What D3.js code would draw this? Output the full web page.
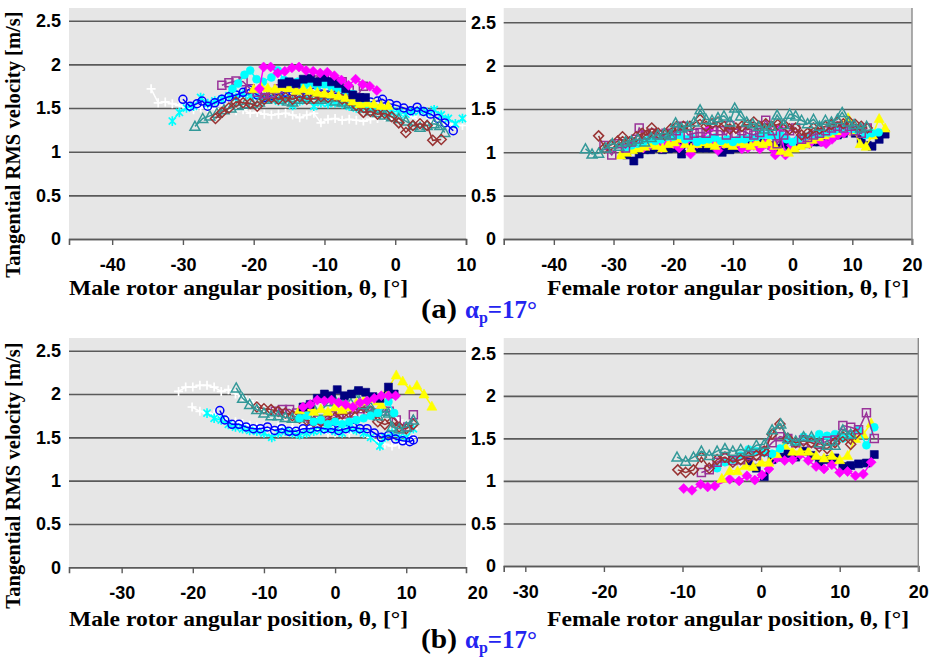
<!DOCTYPE html>
<html>
<head>
<meta charset="utf-8">
<script src="https://cdn.jsdelivr.net/npm/d3@7"></script>
<style>
  html, body { margin: 0; background: #fff; }
  svg { display: block; }
</style>
</head>
<body>
<div id="chart"></div>
<script>
// each point: [angular position θ (deg), tangential RMS velocity (m/s)]

// (a) male rotor
const aMaleWhite = [[-34.5,1.72],[-33.5,1.56],[-32.5,1.57],[-31.5,1.55],[-30.5,1.53],[-29.5,1.5],[-28.5,1.48],[-27.5,1.5],[-26.5,1.5],[-25.5,1.49],[-24.5,1.48],[-23.5,1.5],[-22.5,1.47],[-21.5,1.48],[-20.5,1.44],[-19.5,1.45],[-18.5,1.43],[-17.5,1.42],[-16.5,1.43],[-15.5,1.44],[-14.5,1.42],[-13.5,1.39],[-12.5,1.42],[-11.5,1.44],[-10.5,1.33],[-9.5,1.37],[-8.5,1.38],[-7.5,1.36],[-6.5,1.37],[-5.5,1.36],[-4.5,1.35],[-3.5,1.37],[-2.5,1.38],[-1.5,1.4],[-0.5,1.38],[0.5,1.4],[1.5,1.42],[2.5,1.4],[3.5,1.35],[4.5,1.33],[5.5,1.35],[6.5,1.3],[7.5,1.32],[8.5,1.3],[9.5,1.3]];
const aMaleStar = [[-31.5,1.35],[-30.5,1.45],[-29.5,1.5],[-28.5,1.52],[-27.5,1.62],[-26.5,1.55],[-25.5,1.58],[-24.5,1.6],[-23.5,1.64],[-22.5,1.62],[-21.5,1.66],[-20.5,1.64],[-19.5,1.65],[-18.5,1.62],[-17.5,1.6],[-16.5,1.58],[-15.5,1.6],[-14.5,1.53],[-13.5,1.58],[-12.5,1.6],[-11.5,1.52],[-10.5,1.56],[-9.5,1.55],[-8.5,1.56],[-7.5,1.55],[-6.5,1.52],[-5.5,1.5],[-4.5,1.52],[-3.5,1.5],[-2.5,1.48],[-1.5,1.45],[-0.5,1.47],[0.5,1.45],[1.5,1.43],[2.5,1.46],[3.5,1.47],[4.5,1.45],[5.5,1.48],[6.5,1.42],[7.5,1.38],[8.5,1.32],[9.5,1.38]];
const aMaleBlue = [[-30,1.6],[-29,1.52],[-28,1.55],[-27.3,1.58],[-26.5,1.52],[-25.5,1.56],[-24.5,1.6],[-23.5,1.63],[-22.5,1.65],[-21.5,1.68],[-20.7,1.71],[-19.5,1.65],[-18.5,1.62],[-17.5,1.64],[-16.5,1.66],[-15.5,1.68],[-14.5,1.69],[-13.5,1.67],[-12.5,1.66],[-11.5,1.68],[-10.5,1.66],[-9.5,1.65],[-8.5,1.67],[-7.5,1.66],[-6.5,1.63],[-5.5,1.62],[-4.5,1.6],[-3.5,1.57],[-2.5,1.58],[-1.8,1.6],[-0.8,1.55],[0.2,1.53],[1.2,1.5],[2.2,1.47],[3.1,1.51],[4,1.46],[5,1.43],[6,1.38],[7,1.33],[8.2,1.24]];
const aMaleTeal = [[-28.3,1.29],[-27.2,1.38],[-26.2,1.41],[-25.2,1.44],[-24.2,1.48],[-23.2,1.5],[-22.2,1.53],[-21.2,1.55],[-20.2,1.55],[-19.2,1.57],[-18.2,1.6],[-17.2,1.62],[-16.2,1.6],[-15.2,1.58],[-14.5,1.57],[-13.5,1.6],[-12.5,1.62],[-11.5,1.6],[-10.5,1.6],[-9.5,1.62],[-8.5,1.58],[-7.5,1.57],[-6.5,1.55],[-5.5,1.52],[-4.5,1.5],[-3.5,1.47],[-2.5,1.45],[-1.5,1.42],[-0.5,1.4],[0.5,1.38],[1.5,1.35],[2.5,1.3],[3.5,1.28],[4.5,1.3],[5.5,1.32],[6.3,1.3],[7,1.22]];
const aMaleRed = [[-25.4,1.38],[-24.5,1.45],[-23.5,1.5],[-22.5,1.57],[-21.5,1.56],[-20.5,1.55],[-19.5,1.52],[-18.5,1.6],[-17.5,1.62],[-16.5,1.6],[-15.5,1.62],[-14.5,1.6],[-13.5,1.63],[-12.5,1.6],[-11.5,1.61],[-10.5,1.63],[-9.5,1.62],[-8.5,1.64],[-7.5,1.6],[-6.5,1.58],[-5.5,1.53],[-4.5,1.45],[-3.5,1.46],[-2.5,1.43],[-1.5,1.44],[-0.5,1.4],[0.5,1.33],[1.5,1.22],[2.5,1.3],[3.5,1.32],[4.5,1.3],[5.3,1.13],[6.5,1.14]];
const aMalePurple = [[-24.5,1.76],[-23.5,1.79],[-22.5,1.81],[-21.5,1.8],[-20.5,1.72],[-19.5,1.68],[-18.5,1.66],[-17.6,1.67],[-16.5,1.72],[-15.5,1.78],[-14.5,1.78],[-13.5,1.76],[-12.5,1.8],[-11.5,1.82],[-10.5,1.8],[-9.5,1.8],[-8.5,1.79],[-7.5,1.8],[-6.5,1.7],[-5.5,1.62],[-4.5,1.75]];
const aMaleCyan = [[-23,1.72],[-22.2,1.78],[-21.3,1.88],[-20.5,1.93],[-19.6,1.83],[-18.7,1.8],[-17.5,1.85],[-16.6,1.93],[-15.7,1.82],[-14.8,1.78],[-13.8,1.8],[-12.9,1.75],[-12,1.78],[-11,1.75],[-10,1.77],[-9,1.74],[-8,1.72],[-7,1.7],[-6,1.66],[-5,1.6],[-4,1.55]];
const aMaleYellow = [[-20,1.72],[-19,1.75],[-18,1.73],[-17,1.72],[-16,1.74],[-15,1.73],[-14,1.7],[-13,1.72],[-12,1.7],[-11,1.68],[-10,1.67],[-9,1.66],[-8,1.64],[-7,1.62],[-6,1.58],[-5,1.55],[-4,1.56],[-3,1.55],[-2,1.53],[-1,1.53]];
const aMaleMagenta = [[-19.2,1.72],[-18.6,1.97],[-17.6,1.97],[-16.6,1.9],[-15.6,1.92],[-14.6,1.96],[-13.6,1.97],[-12.6,1.93],[-11.6,1.92],[-10.6,1.9],[-9.6,1.91],[-8.6,1.87],[-7.6,1.82],[-6.6,1.76],[-5.6,1.83],[-4.6,1.77],[-3.6,1.75],[-2.6,1.7]];
const aMaleNavy = [[-16,1.78],[-15,1.8],[-14,1.78],[-13,1.83],[-12,1.84],[-11,1.8],[-10,1.85],[-9,1.8],[-8,1.78],[-7,1.72],[-6,1.65],[-5,1.62],[-4.2,1.62]];

// (a) female rotor
const aFemNavy = [[-27.8,0.97],[-26.6,0.9],[-25.7,0.98],[-24.8,1.03],[-23.8,1.03],[-22.8,1.05],[-21.8,1.03],[-20.8,1.04],[-19.8,1.05],[-19,1.08],[-18.6,0.98],[-17.5,1.12],[-16.5,1.05],[-15.5,1.05],[-14.5,1.05],[-13.5,1.05],[-12.5,1.05],[-11.8,1.0],[-10.5,1.03],[-9.5,1.05],[-8.5,1.1],[-7.5,1.1],[-6.5,1.12],[-5.5,1.12],[-4.5,1.1],[-3.5,1.08],[-2.5,1.05],[-1.5,1.1],[-0.5,1.08],[0.5,1.08],[1.5,1.1],[2.5,1.1],[3.5,1.12],[4.5,1.12],[5.5,1.15],[6.5,1.18],[7.5,1.2],[8.5,1.22],[9.5,1.25],[10.5,1.22],[11.5,1.15],[12.5,1.08],[13.3,1.07],[14.5,1.15],[15.5,1.21]];
const aFemMagenta = [[-25,1.05],[-24,1.08],[-23,1.1],[-22,1.05],[-21,1.12],[-20,1.1],[-19,1.05],[-18,1.12],[-17.1,0.98],[-16,1.1],[-15,1.15],[-14,1.27],[-13,1.1],[-12.5,1.02],[-11.5,1.1],[-10.5,1.12],[-9.5,1.1],[-8.5,1.04],[-7.5,1.05],[-6.5,1.08],[-5.5,1.04],[-4.5,1.1],[-3.5,1.05],[-2.9,0.97],[-2.2,1.28],[-1.2,0.97],[-0.2,1.08],[0.8,1.15],[1.8,1.12],[2.8,1.1],[3.8,1.15],[4.8,1.12],[5.6,1.1],[6.6,1.15],[7.6,1.2],[8.6,1.22],[9.6,1.25]];
const aFemYellow = [[-28.8,0.97],[-27.8,1.0],[-26.8,1.03],[-25.8,1.05],[-24.8,1.07],[-23.8,1.1],[-22.8,1.08],[-21.8,1.05],[-20.8,1.1],[-19.8,1.12],[-19,1.16],[-18,1.1],[-17,1.05],[-16,1.1],[-15,1.12],[-14,1.1],[-13,1.08],[-12,1.12],[-11,1.1],[-10,1.08],[-9,1.12],[-8,1.1],[-7,1.08],[-6,1.12],[-5,1.1],[-4,1.12],[-3,1.08],[-2,1.02],[-0.7,1.0],[0.3,1.05],[1.3,1.08],[2.3,1.1],[3.3,1.15],[4.3,1.18],[5.3,1.2],[6.3,1.22],[7.3,1.25],[8.3,1.3],[9.3,1.4],[10.3,1.25],[11.3,1.1],[12.3,1.07],[13.4,1.2],[14.5,1.39],[15.5,1.28]];
const aFemCyan = [[-28,1.05],[-27,1.08],[-26,1.1],[-25,1.12],[-24,1.15],[-23,1.13],[-22,1.15],[-21,1.18],[-20,1.18],[-19,1.2],[-18,1.15],[-17,1.17],[-16,1.12],[-15,1.14],[-14,1.15],[-13,1.17],[-12,1.13],[-11,1.15],[-10,1.12],[-9,1.15],[-8,1.15],[-7,1.17],[-6,1.18],[-5,1.2],[-4,1.2],[-3,1.18],[-2,1.2],[-1,1.15],[0,1.12],[1,1.15],[2,1.18],[3,1.2],[4,1.2],[5,1.22],[6,1.23],[7,1.25],[8,1.27],[9,1.28],[10,1.27],[11,1.25],[12.2,1.2],[13.3,1.22],[14.4,1.23]];
const aFemPurple = [[-31.6,1.08],[-30.3,0.97],[-29.1,1.1],[-28,1.05],[-27,1.12],[-26.3,1.15],[-25.7,1.28],[-24.6,1.2],[-23.5,1.22],[-22.3,1.2],[-21.2,1.22],[-20.2,1.2],[-19.5,1.25],[-18.5,1.3],[-17.5,1.2],[-16.5,1.22],[-15.5,1.23],[-14.5,1.22],[-13.2,1.25],[-12.1,1.25],[-11.1,1.2],[-10.5,1.31],[-9.5,1.22],[-8.5,1.25],[-7.5,1.22],[-6.5,1.2],[-5.5,1.23],[-4.5,1.37],[-3.4,1.25],[-2.6,1.1],[-1.5,1.2],[-0.5,1.25],[0.5,1.28],[1.5,1.15],[2.5,1.17],[3.5,1.2],[4.5,1.22],[5.5,1.25],[6.5,1.28],[7.5,1.3],[8.5,1.28],[9.5,1.3],[10.5,1.25],[11.5,1.22],[12.5,1.28]];
const aFemRed = [[-32.5,1.19],[-31.5,1.05],[-30.5,1.08],[-29.3,1.13],[-28.5,1.18],[-27.3,1.12],[-26.2,1.18],[-25.2,1.22],[-24.4,1.2],[-23.6,1.28],[-22.5,1.22],[-21.4,1.2],[-20.4,1.27],[-19.4,1.3],[-18.3,1.3],[-17.2,1.3],[-15.5,1.38],[-14.5,1.3],[-13.5,1.33],[-12.5,1.35],[-11.5,1.3],[-10.5,1.27],[-9.5,1.28],[-8.5,1.3],[-7.5,1.32],[-6.5,1.35],[-5.5,1.3],[-4.5,1.33],[-3.5,1.3],[-2.5,1.32],[-1.5,1.32],[-0.5,1.27],[0.5,1.28],[1.5,1.2],[2.5,1.22],[3.5,1.28],[4.5,1.27],[5.5,1.3],[6.5,1.32],[7.5,1.35],[8.5,1.33],[9.5,1.35],[10.5,1.32],[11.5,1.3],[12.5,1.28]];
const aFemTeal = [[-34.7,1.04],[-33.6,0.98],[-32.5,0.99],[-31.3,1.05],[-30.2,1.1],[-29.1,1.07],[-28,1.12],[-27,1.13],[-25.9,1.15],[-24.8,1.12],[-23.7,1.17],[-22.6,1.2],[-21.5,1.22],[-20.5,1.2],[-19.6,1.34],[-18.6,1.28],[-17.6,1.3],[-16.5,1.35],[-15.5,1.49],[-14.5,1.38],[-13.5,1.37],[-12.5,1.4],[-11.5,1.42],[-10.5,1.35],[-9.7,1.51],[-8.7,1.42],[-7.7,1.35],[-6.7,1.33],[-5.7,1.3],[-4.7,1.27],[-3.6,1.3],[-2.6,1.43],[-1.5,1.32],[-0.5,1.44],[0.5,1.42],[1.5,1.37],[2.5,1.33],[3.5,1.38],[4.5,1.3],[5.5,1.37],[6.5,1.35],[7.5,1.38],[8.3,1.46],[9.3,1.35],[10.3,1.32],[11.4,1.28],[12.4,1.3]];

// (b) male rotor
const bMaleWhiteUpper = [[-22,2.03],[-21,2.08],[-20,2.08],[-19,2.1],[-18,2.1],[-17,2.08],[-16,2.03],[-15,2.05],[-14,2.0],[-13,1.97],[-12,1.92],[-11,1.88],[-10,1.83],[-9,1.8],[-8,1.78],[-7,1.75],[-6,1.73],[-5,1.72],[-4,1.7],[-3,1.68],[-2,1.7],[-1,1.72],[0,1.75],[1,1.76],[2,1.75],[3,1.78],[4,1.8],[5,1.78],[6,1.8],[7,1.78],[8,1.75],[9,1.7],[10,1.65],[11,1.6]];
const bMaleWhiteLower = [[-20.1,1.85],[-19,1.8],[-18,1.78],[-17,1.77],[-16,1.72],[-15,1.7],[-14,1.68],[-13,1.66],[-12,1.64],[-11,1.62],[-10,1.62],[-9,1.6],[-8,1.62],[-7,1.6],[-6,1.62],[-5,1.6],[-4,1.63],[-3,1.6],[-2,1.58],[-1,1.55],[0,1.55],[1,1.57],[2,1.55],[3,1.58],[4,1.55],[5,1.5],[6,1.45],[7,1.42],[8,1.4],[9,1.42],[10,1.45],[11,1.5]];
const bMaleStar = [[-18,1.78],[-17,1.72],[-16,1.7],[-15,1.65],[-14,1.62],[-13,1.6],[-12,1.58],[-11,1.57],[-10,1.55],[-8.9,1.5],[-8,1.55],[-7,1.57],[-6,1.55],[-5,1.53],[-4,1.55],[-3,1.57],[-2,1.58],[-1,1.6],[0,1.57],[1,1.55],[2,1.6],[3,1.58],[4,1.55],[5,1.5],[6.3,1.4],[7,1.5],[8,1.55],[9,1.5],[10,1.5],[11,1.6]];
const bMaleBlue = [[-16.2,1.81],[-15.5,1.7],[-14.5,1.65],[-13.5,1.65],[-12.5,1.62],[-11.5,1.6],[-10.5,1.6],[-9.5,1.62],[-8.5,1.58],[-7.5,1.6],[-6.5,1.57],[-5.5,1.57],[-4.5,1.6],[-3.5,1.6],[-2.5,1.62],[-1.5,1.6],[-0.5,1.6],[0.5,1.58],[1.5,1.6],[2.5,1.62],[3.5,1.6],[4.5,1.6],[5.5,1.55],[6.5,1.5],[7.5,1.52],[8.5,1.48],[9.5,1.46],[10.5,1.45],[11,1.47]];
const bMaleTeal = [[-13.9,2.07],[-13,1.95],[-12,1.88],[-11,1.82],[-10,1.78],[-9,1.75],[-8,1.75],[-7,1.73],[-6,1.72],[-5,1.73],[-4,1.78],[-3.05,1.84],[-2,1.8],[-0.9,1.91],[0,1.92],[1,1.92],[2,1.92],[2.8,2.01],[4,1.88],[5,1.85],[6,1.75],[7,1.8],[7.5,1.78],[8,1.62],[9,1.6],[10,1.62],[11,1.7]];
const bMaleRed = [[-11,1.85],[-10,1.83],[-9,1.82],[-8,1.8],[-7,1.78],[-6,1.75],[-5,1.72],[-4,1.7],[-3,1.68],[-2,1.68],[-1,1.7],[0,1.73],[1,1.77],[2,1.78],[3,1.83],[4,1.85],[5,1.8],[6,1.68],[7,1.65],[8,1.68],[9,1.62],[10,1.6],[11,1.65]];
const bMalePurple = [[-8.4,1.8],[-7.4,1.82],[-6.4,1.82],[-5.4,1.78],[-4.4,1.74],[-3.4,1.72],[-2.4,1.7],[-1.4,1.7],[-0.4,1.75],[0.6,1.77],[1.6,1.77],[2.6,1.78],[3.6,1.83],[4.6,1.8],[5.6,1.78],[6.6,1.8],[7.6,1.8],[8.6,1.7],[9.3,1.6],[10.2,1.62],[11,1.76]];
const bMaleCyan = [[-5,1.72],[-4,1.75],[-3,1.68],[-2,1.7],[-1,1.65],[0,1.68],[1,1.65],[2,1.68],[3,1.7],[4,1.72],[5,1.75],[6,1.78],[7.5,1.91],[8.3,1.78]];
const bMaleYellow = [[-5,1.82],[-4,1.85],[-3,1.8],[-2,1.83],[-1,1.8],[0,1.85],[1,1.82],[2,1.85],[3,1.9],[4,1.92],[5,1.95],[6,1.92],[6.5,1.88],[7.5,2.07],[8.6,2.22],[9.5,2.15],[10.5,2.05],[11.5,2.1],[12.5,2.0],[13.6,1.86]];
const bMaleMagenta = [[-4.5,1.85],[-3.5,1.88],[-2.5,1.93],[-1.5,1.92],[-0.5,1.93],[0.5,1.9],[1.5,1.88],[2.5,1.85],[3.5,1.9],[4.5,1.92],[5.5,1.95],[6.5,1.98],[7.5,1.98],[8.5,1.98]];
const bMaleNavy = [[-4.5,1.85],[-3.5,1.88],[-2.5,1.95],[-1.5,2.0],[-0.5,1.98],[0.3,2.05],[1.3,1.98],[2.3,2.0],[3.3,2.04],[4.3,2.02],[5.3,1.97],[6.3,1.95],[7.5,2.08],[8.3,2.0]];

// (b) female rotor
const bFemNavy = [[-1.6,1.22],[-0.6,1.15],[0.4,1.05],[1.4,1.25],[2.4,1.28],[3.4,1.32],[4.4,1.28],[5.4,1.35],[6.4,1.3],[7.4,1.22],[8.4,1.25],[9.4,1.27],[10.4,1.17],[11.4,1.18],[12.4,1.2],[13.4,1.21],[14.4,1.31]];
const bFemMagenta = [[-9.85,0.91],[-8.8,0.89],[-7.7,0.96],[-6.8,0.93],[-5.9,0.94],[-4,1.02],[-2.8,1.0],[-1.8,1.06],[-0.8,1.01],[0.1,1.07],[1,1.14],[2,1.27],[3,1.24],[4,1.25],[5,1.31],[6,1.24],[7,1.17],[8,1.14],[9,1.19],[10,1.1],[11,1.11],[12,1.06],[13,1.08],[14,1.22]];
const bFemYellow = [[-5,1.03],[-4,1.12],[-3,1.12],[-2,1.18],[-1,1.17],[0,1.22],[1,1.22],[2,1.32],[3,1.42],[4,1.35],[5,1.35],[6,1.35],[7,1.3],[8,1.27],[9,1.3],[10,1.25],[11,1.3],[12,1.5],[13,1.55],[14,1.68]];
const bFemCyan = [[-5.6,1.15],[-4.6,1.22],[-3.6,1.25],[-2.6,1.3],[-1.6,1.37],[-0.6,1.35],[0.4,1.33],[1.4,1.32],[2.4,1.38],[3.4,1.48],[4.4,1.45],[5.4,1.52],[6.4,1.5],[7.4,1.55],[8.4,1.53],[9.4,1.55],[10.4,1.5],[11.4,1.55],[12.4,1.6],[13.4,1.42],[14.4,1.63]];
const bFemPurple = [[-7.6,1.1],[-6.6,1.13],[-5.6,1.22],[-4.6,1.27],[-3.6,1.24],[-2.6,1.25],[-1.6,1.3],[-0.6,1.3],[0.4,1.35],[1.4,1.45],[2.4,1.52],[3.4,1.5],[4.4,1.45],[5.4,1.48],[6.4,1.45],[7.4,1.43],[8.4,1.47],[9.4,1.48],[10.4,1.65],[11.4,1.63],[12.4,1.6],[13.4,1.8],[14.4,1.5]];
const bFemRed = [[-10.6,1.13],[-9.6,1.1],[-8.6,1.13],[-7.6,1.28],[-6.6,1.15],[-5.6,1.25],[-4.6,1.28],[-3.6,1.22],[-2.6,1.25],[-1.6,1.28],[-0.6,1.3],[0.4,1.35],[1.4,1.55],[2.4,1.67],[3.4,1.5],[4.4,1.45],[5.4,1.47],[6.4,1.45],[7.4,1.4],[8.4,1.38],[9.4,1.45],[10.4,1.52],[11.4,1.43],[12,1.55]];
const bFemTeal = [[-10.7,1.28],[-9.6,1.23],[-8.6,1.28],[-7.6,1.35],[-6.6,1.3],[-5.6,1.35],[-4.6,1.38],[-3.6,1.35],[-2.6,1.37],[-1.6,1.35],[-0.6,1.42],[0.4,1.43],[1.4,1.6],[2.5,1.67],[3.4,1.5],[4.4,1.47],[5.4,1.52],[6.4,1.52],[7.4,1.45],[8.4,1.42],[9.4,1.42],[10.4,1.6],[11.4,1.55]];

const yTicks = [0, 0.5, 1, 1.5, 2, 2.5];
const aMaleXTicks = [-40, -30, -20, -10, 0, 10];
const aFemXTicks = [-40, -30, -20, -10, 0, 10, 20];
const bXTicks = [-30, -20, -10, 0, 10, 20];

const STYLE = {
  white:   {color: "#ffffff", shape: "plus"},
  star:    {color: "#00ffff", shape: "star"},
  blue:    {color: "#0000ff", shape: "circle", open: true},
  teal:    {color: "#339999", shape: "triangle", open: true},
  red:     {color: "#993333", shape: "diamond", open: true},
  purple:  {color: "#993399", shape: "square", open: true},
  cyan:    {color: "#00ffff", shape: "circle"},
  yellow:  {color: "#ffff00", shape: "triangle"},
  magenta: {color: "#ff00ff", shape: "diamond"},
  navy:    {color: "#000080", shape: "square"}
};

const MARKER = {
  square: "M-4,-4H4V4H-4Z",
  diamond: "M0,-5L5,0L0,5L-5,0Z",
  triangle: "M0,-5L5,4H-5Z",
  circle: d3.symbol(d3.symbolCircle, 50)(),
  plus: "M-4.5,0H4.5M0,-4.5V4.5",
  star: "M-3.6,-3.6L3.6,3.6M-3.6,3.6L3.6,-3.6M0,-4.8V4.8"
};

const PANELS = [
  {left: 69, right: 466, top: 8, zeroY: 239, topY: 20.7, xDomain: [-46.1, 10], xTicks: aMaleXTicks, labelX: 61,
   series: [["white", aMaleWhite], ["star", aMaleStar], ["blue", aMaleBlue], ["teal", aMaleTeal], ["red", aMaleRed],
            ["purple", aMalePurple], ["cyan", aMaleCyan], ["yellow", aMaleYellow], ["navy", aMaleNavy], ["magenta", aMaleMagenta]]},
  {left: 503.7, right: 912, top: 8, zeroY: 239, topY: 22.3, xDomain: [-48.4, 20], xTicks: aFemXTicks, labelX: 496, border: true,
   series: [["navy", aFemNavy], ["magenta", aFemMagenta], ["yellow", aFemYellow], ["cyan", aFemCyan],
            ["purple", aFemPurple], ["red", aFemRed], ["teal", aFemTeal]]},
  {left: 69, right: 466, top: 338, zeroY: 567.3, topY: 350.7, xDomain: [-37.4, 18.4], xTicks: bXTicks, labelX: 61,
   series: [["white", bMaleWhiteUpper], ["white", bMaleWhiteLower], ["star", bMaleStar], ["blue", bMaleBlue],
            ["purple", bMalePurple], ["red", bMaleRed], ["teal", bMaleTeal], ["cyan", bMaleCyan],
            ["yellow", bMaleYellow], ["navy", bMaleNavy], ["magenta", bMaleMagenta]]},
  {left: 503.7, right: 918.3, top: 338, zeroY: 566, topY: 353.3, xDomain: [-32.75, 20], xTicks: bXTicks, labelX: 496, border: true,
   series: [["navy", bFemNavy], ["magenta", bFemMagenta], ["yellow", bFemYellow], ["cyan", bFemCyan],
            ["purple", bFemPurple], ["red", bFemRed], ["teal", bFemTeal]]}
];

const svg = d3.select("#chart").append("svg")
  .attr("width", 936).attr("height", 657)
  .attr("viewBox", [0, 0, 936, 657]);

svg.append("rect").attr("width", 936).attr("height", 657).attr("fill", "#fff");

const TICK_FONT = "'Liberation Sans', Arial, sans-serif";
const SERIF = "'Liberation Serif', 'Times New Roman', serif";
const plainNumber = (d) => String(d); // hyphen minus, as in the original

for (const p of PANELS) {
  const x = d3.scaleLinear().domain(p.xDomain).range([p.left, p.right]);
  const y = d3.scaleLinear().domain([0, 2.5]).range([p.zeroY, p.topY]);
  const g = svg.append("g");

  g.append("rect")
    .attr("x", p.left).attr("y", p.top)
    .attr("width", p.right - p.left).attr("height", p.zeroY - p.top)
    .attr("fill", "#e6e6e6");

  // gridlines + y labels
  g.append("g")
    .attr("transform", `translate(${p.left},0)`)
    .call(d3.axisLeft(y).tickValues(yTicks).tickFormat(plainNumber).tickSize(-(p.right - p.left)).tickPadding(p.left - p.labelX))
    .call((a) => a.select(".domain").remove())
    .call((a) => a.selectAll(".tick line").attr("stroke", "#5a5a5a").attr("stroke-width", 1.6))
    .call((a) => a.selectAll(".tick text")
      .attr("font-family", TICK_FONT).attr("font-weight", "bold").attr("font-size", 18).attr("fill", "#000"));

  // x axis
  const [x0, x1] = p.xDomain;
  g.append("g")
    .attr("transform", `translate(0,${p.zeroY})`)
    .call(d3.axisBottom(x).tickValues(p.xTicks).tickFormat(plainNumber).tickSizeOuter(0).tickSize(6).tickPadding(13))
    .call((a) => a.select(".domain").attr("stroke", "#5a5a5a").attr("stroke-width", 1.6))
    .call((a) => a.selectAll(".tick line").attr("stroke", "#5a5a5a").attr("stroke-width", 1.4)
      .attr("display", (d) => (d >= x0 && d <= x1 + 0.01 ? null : "none")))
    .call((a) => a.selectAll(".tick text")
      .attr("font-family", TICK_FONT).attr("font-weight", "bold").attr("font-size", 18).attr("fill", "#000"));

  if (p.border) {
    g.append("line")
      .attr("x1", p.right).attr("x2", p.right)
      .attr("y1", p.top).attr("y2", p.zeroY + 6)
      .attr("stroke", "#8a8a8a").attr("stroke-width", 1.4);
  }

  const line = d3.line().x((d) => x(d[0])).y((d) => y(d[1]));

  for (const [key, data] of p.series) {
    const st = STYLE[key];
    g.append("path")
      .datum(data)
      .attr("fill", "none")
      .attr("stroke", st.color)
      .attr("stroke-width", 1.5)
      .attr("d", line);

    const lineShape = st.shape === "plus" || st.shape === "star";
    g.append("g")
      .selectAll("path")
      .data(data)
      .join("path")
      .attr("transform", (d) => `translate(${x(d[0])},${y(d[1])})`)
      .attr("d", MARKER[st.shape])
      .attr("fill", st.open || lineShape ? "none" : st.color)
      .attr("stroke", st.color)
      .attr("stroke-width", lineShape ? 1.7 : st.open ? 1.5 : 0.6);
  }
}

// axis titles (the original figure is slightly stretched sideways, so widths are pinned)
const Y_TITLE = "Tangential RMS velocity [m/s]";
for (const cy of [144.5, 475.5]) {
  svg.append("text")
    .attr("transform", `translate(20,${cy}) rotate(-90)`)
    .attr("text-anchor", "middle")
    .attr("font-family", SERIF).attr("font-weight", "bold").attr("font-size", 20.6)
    .text(Y_TITLE);
}

const X_TITLES = [
  {x: 69, y: 295, w: 339, text: "Male rotor angular position, θ, [°]"},
  {x: 547, y: 295, w: 362, text: "Female rotor angular position, θ, [°]"},
  {x: 69, y: 626, w: 339, text: "Male rotor angular position, θ, [°]"},
  {x: 547, y: 626, w: 362, text: "Female rotor angular position, θ, [°]"}
];
svg.selectAll(".xtitle")
  .data(X_TITLES)
  .join("text")
  .attr("class", "xtitle")
  .attr("x", (d) => d.x).attr("y", (d) => d.y)
  .attr("textLength", (d) => d.w).attr("lengthAdjust", "spacingAndGlyphs")
  .attr("font-family", SERIF).attr("font-weight", "bold").attr("font-size", 21)
  .text((d) => d.text);

// sub-figure captions
for (const [tag, base] of [["(a)", 318], ["(b)", 648]]) {
  svg.append("text")
    .attr("x", 421).attr("y", base)
    .attr("textLength", 36).attr("lengthAdjust", "spacingAndGlyphs")
    .attr("font-family", SERIF).attr("font-weight", "bold").attr("font-size", 28)
    .text(tag);
  const t = svg.append("text")
    .attr("x", 465).attr("y", base)
    .attr("font-family", SERIF).attr("font-weight", "bold").attr("font-size", 25)
    .attr("fill", "#2424f0");
  t.append("tspan").text("α");
  t.append("tspan").attr("font-size", 16).attr("dy", 5).text("p");
  t.append("tspan").attr("dy", -5).text("=17°");
}
</script>
</body>
</html>
